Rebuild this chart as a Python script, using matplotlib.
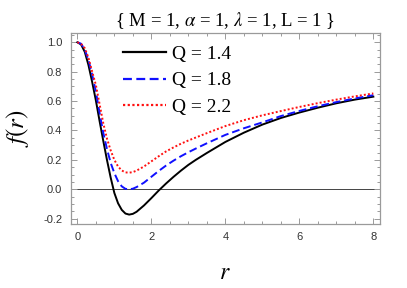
import matplotlib
matplotlib.use("Agg")
import matplotlib.pyplot as plt
from matplotlib.ticker import MultipleLocator

# ---- data ----
r_vals = [0.0, 0.1, 0.2, 0.3, 0.4, 0.5, 0.6, 0.7, 0.8, 0.9, 1.0, 1.1, 1.2, 1.3, 1.4,
          1.5, 1.6, 1.8, 2.0, 2.2, 2.4, 2.6, 2.8, 3.0, 3.2, 3.5, 4.0, 4.5, 5.0, 5.5,
          6.0, 6.5, 7.0, 7.5, 8.0]
f_q14 = [1.0, 0.985, 0.935, 0.845, 0.73, 0.605, 0.465, 0.33, 0.2, 0.08, -0.025, -0.095,
         -0.14, -0.165, -0.172, -0.167, -0.153, -0.11, -0.06, -0.008, 0.04, 0.085, 0.127,
         0.166, 0.2, 0.247, 0.322, 0.385, 0.44, 0.485, 0.522, 0.555, 0.585, 0.61, 0.63]
f_q18 = [1.0, 0.99, 0.95, 0.88, 0.78, 0.665, 0.52, 0.385, 0.275, 0.18, 0.11, 0.055,
         0.02, 0.003, 0.0, 0.004, 0.015, 0.045, 0.085, 0.125, 0.162, 0.195, 0.225,
         0.252, 0.277, 0.313, 0.37, 0.415, 0.455, 0.498, 0.533, 0.565, 0.593, 0.618, 0.64]
f_q22 = [1.0, 0.99, 0.96, 0.895, 0.8, 0.71, 0.58, 0.45, 0.345, 0.265, 0.2, 0.155,
         0.128, 0.115, 0.113, 0.117, 0.127, 0.155, 0.19, 0.225, 0.258, 0.285, 0.31,
         0.332, 0.352, 0.382, 0.43, 0.47, 0.503, 0.532, 0.56, 0.586, 0.61, 0.632, 0.652]
labels = ["Q = 1.4", "Q = 1.8", "Q = 2.2"]
title = "{ M = 1, $\\alpha$ = 1, $\\lambda$ = 1, L = 1 }"

plt.rcParams['mathtext.fontset'] = 'stix'

fig = plt.figure(figsize=(4.07, 2.88), dpi=100)
ax = fig.add_axes([70.7/407, (288-224)/288, (380-70.7)/407, (224-33)/288])

ax.plot(r_vals, f_q14, color='black', lw=1.4, label=labels[0])
ax.plot(r_vals, f_q18, color='#1010ff', lw=1.4, dashes=[4, 2], label=labels[1])
ax.plot(r_vals, f_q22, color='#ff1010', lw=1.4, dashes=[1, 1.1], label=labels[2])
ax.axhline(0, color='#444444', lw=0.7, zorder=0)

ax.set_xlim(-0.18, 8.18)
ax.set_ylim(-0.236, 1.063)

ax.xaxis.set_major_locator(MultipleLocator(2))
ax.xaxis.set_minor_locator(MultipleLocator(0.5))
ax.yaxis.set_major_locator(MultipleLocator(0.2))
ax.yaxis.set_minor_locator(MultipleLocator(0.05))
ax.yaxis.set_major_formatter(matplotlib.ticker.FormatStrFormatter('%.1f'))

frame_col = '#9a9a9a'
for s in ax.spines.values():
    s.set_color(frame_col)
    s.set_linewidth(0.9)
ax.tick_params(which='both', direction='in', top=True, right=True, color=frame_col,
               labelsize=8, labelcolor='#333333', width=0.7)
ax.tick_params(which='major', length=4, pad=6)
ax.tick_params(which='minor', length=2.2)
for lab in ax.get_xticklabels() + ax.get_yticklabels():
    lab.set_family('Liberation Sans')

ax.set_title(title, fontsize=13.5, family='Liberation Serif', pad=5)
ax.set_xlabel('$r$', fontsize=17, labelpad=13)
ax.set_ylabel('$f(r)$', fontsize=18, labelpad=9)

leg = ax.legend(loc='upper left', bbox_to_anchor=(0.169, 0.935), frameon=False,
                prop={'family': 'Liberation Serif', 'size': 14}, handlelength=2.2,
                handletextpad=0.32, labelspacing=0.45, borderpad=0, borderaxespad=0)
for line in leg.get_lines():
    line.set_linewidth(1.6)

fig.savefig('out.png', dpi=100)
